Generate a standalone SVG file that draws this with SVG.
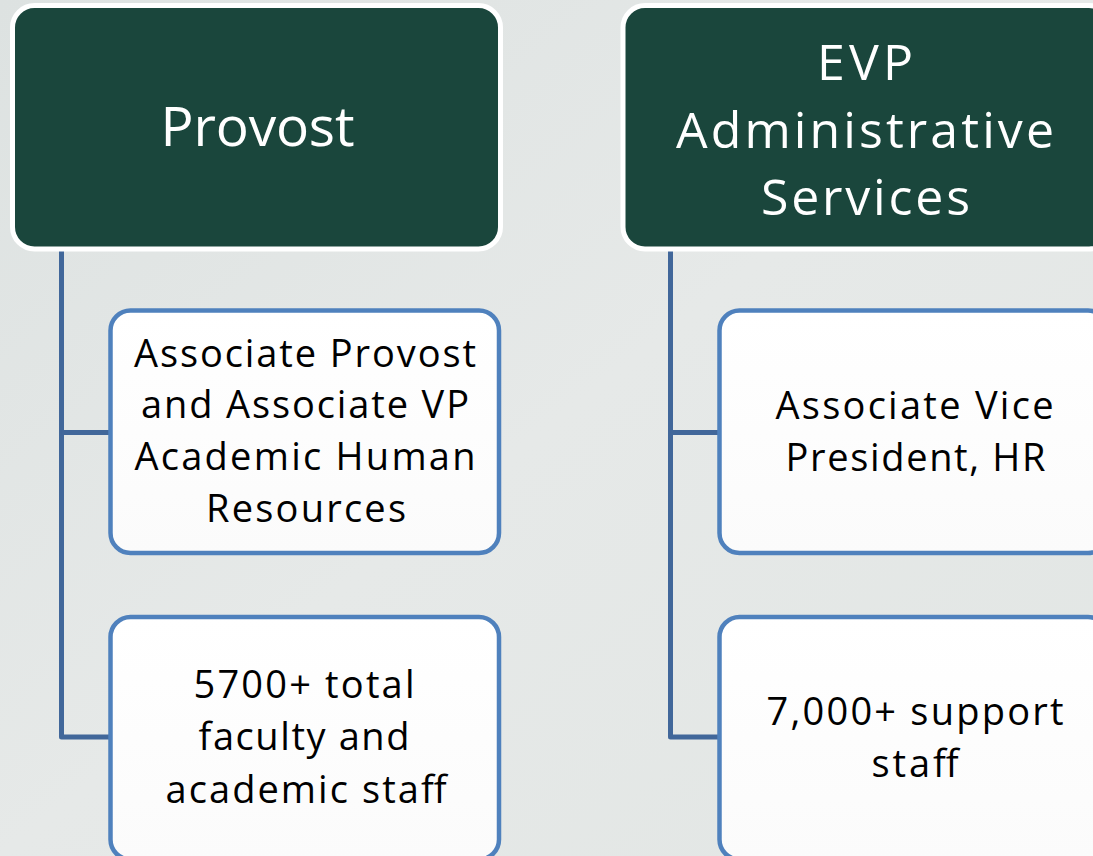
<svg xmlns="http://www.w3.org/2000/svg" width="1093" height="856" viewBox="0 0 1093 856">
  <defs>
    <linearGradient id="bg" x1="0" y1="0" x2="1" y2="1">
      <stop offset="0" stop-color="#dde2e1"/>
      <stop offset="0.5" stop-color="#e6e9e8"/>
      <stop offset="1" stop-color="#e2e6e4"/>
    </linearGradient>
    <linearGradient id="childFill" x1="0" y1="0" x2="0" y2="1">
      <stop offset="0" stop-color="#ffffff"/>
      <stop offset="1" stop-color="#fbfbfb"/>
    </linearGradient>
  </defs>
  <style>
    .head { fill: #1a463c; stroke: #ffffff; stroke-width: 5; }
    .child { fill: url(#childFill); stroke: #4f81bd; stroke-width: 4.5; }
    .conn { fill: none; stroke: #41679a; stroke-width: 5; stroke-linejoin: round; }
    .ht { font-family: "Open Sans", "Noto Sans", sans-serif; font-size: 55px; fill: #ffffff; text-anchor: middle; }
    .ht2 { font-family: "Open Sans", "Noto Sans", sans-serif; font-size: 50px; fill: #ffffff; text-anchor: middle; }
    .ct { font-family: "Open Sans", "Noto Sans", sans-serif; font-size: 38px; fill: #000000; text-anchor: middle; }
  </style>
  <rect x="0" y="0" width="1093" height="856" fill="url(#bg)"/>

  <g id="connectors">
    <path class="conn" d="M61.5,250 V737 H112"/>
    <path class="conn" d="M61.5,432.5 H112"/>
    <path class="conn" d="M670.5,250 V737 H721"/>
    <path class="conn" d="M670.5,432.5 H721"/>
  </g>

  <g id="provost">
    <rect class="head" x="12.5" y="5.5" width="488" height="243.5" rx="22"/>
    <text class="ht" x="257.5" y="146" textLength="194" lengthAdjust="spacing">Provost</text>
  </g>

  <g id="evp">
    <rect class="head" x="623" y="5.5" width="488" height="243.5" rx="22"/>
    <text class="ht2" x="865" y="80" textLength="96" lengthAdjust="spacing">EVP</text>
    <text class="ht2" x="865" y="148" textLength="378" lengthAdjust="spacing">Administrative</text>
    <text class="ht2" x="865.5" y="215" textLength="209" lengthAdjust="spacing">Services</text>
  </g>

  <g id="assoc-provost">
    <rect class="child" x="110.5" y="310.5" width="388.5" height="242.5" rx="20"/>
    <text class="ct" x="305" y="367" textLength="342" lengthAdjust="spacing">Associate Provost</text>
    <text class="ct" x="305" y="418" textLength="328" lengthAdjust="spacing">and Associate VP</text>
    <text class="ct" x="305" y="470" textLength="341" lengthAdjust="spacing">Academic Human</text>
    <text class="ct" x="306" y="522" textLength="200" lengthAdjust="spacing">Resources</text>
  </g>

  <g id="faculty">
    <rect class="child" x="110.5" y="617" width="388.5" height="242.5" rx="20"/>
    <text class="ct" x="304" y="698" textLength="221" lengthAdjust="spacing">5700+ total</text>
    <text class="ct" x="304" y="750" textLength="211" lengthAdjust="spacing">faculty and</text>
    <text class="ct" x="306" y="803" textLength="281" lengthAdjust="spacing">academic staff</text>
  </g>

  <g id="assoc-vp">
    <rect class="child" x="719.5" y="310.5" width="388.5" height="242.5" rx="20"/>
    <text class="ct" x="914.5" y="419" textLength="278" lengthAdjust="spacing">Associate Vice</text>
    <text class="ct" x="915.5" y="471" textLength="260" lengthAdjust="spacing">President, HR</text>
  </g>

  <g id="support">
    <rect class="child" x="719.5" y="617" width="388.5" height="242.5" rx="20"/>
    <text class="ct" x="915" y="725" textLength="297" lengthAdjust="spacing">7,000+ support</text>
    <text class="ct" x="915" y="777" textLength="87" lengthAdjust="spacing">staff</text>
  </g>
</svg>
